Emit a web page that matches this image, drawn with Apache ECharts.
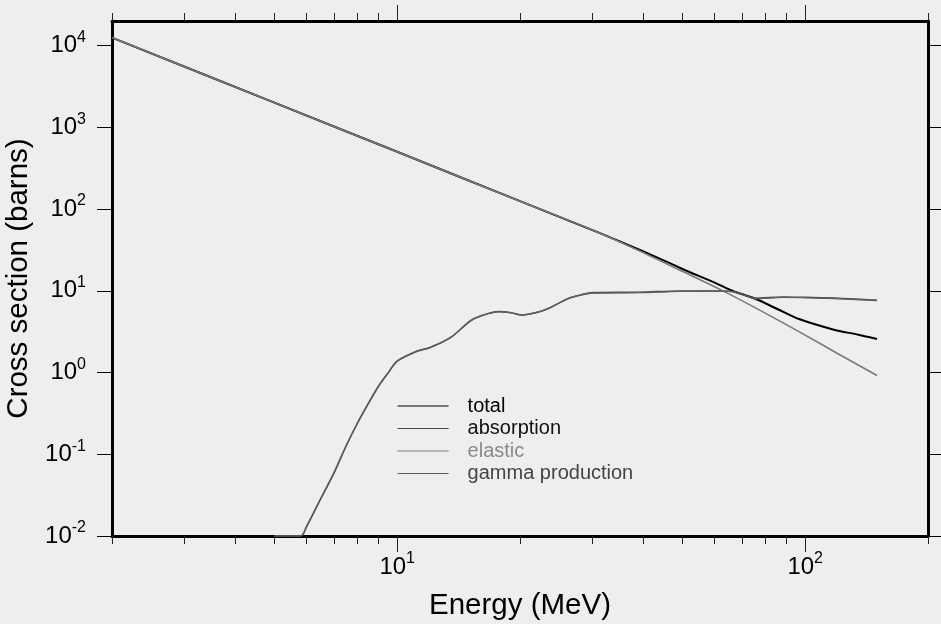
<!DOCTYPE html>
<html><head><meta charset="utf-8">
<script src="https://cdn.jsdelivr.net/npm/echarts@6/dist/echarts.min.js"></script>
<style>html,body{margin:0;padding:0;background:#eeeeee}#c{width:941px;height:624px}</style>
</head><body><div id="c"></div>
<script>
// ---- data ----
const totalEnergy = [2, 5, 10, 20, 31.4, 40, 45.7, 50, 60, 66.5, 75, 86, 97, 117, 135, 150];
const totalValues = [12540, 2006, 502, 125, 50.7, 30.5, 22.8, 18.5, 12.6, 9.95, 8.1, 5.9, 4.48, 3.37, 2.9, 2.57];

const elasticEnergy = [2, 5, 10, 20, 31.4, 39.3, 50, 64.1, 80, 100, 120, 150];
const elasticValues = [12540, 2006, 502, 125, 50.7, 30.7, 17.3, 9.5, 5.3, 2.87, 1.71, 0.92];

const absEnergy = [5.0, 5.8, 6.0, 6.5, 7.0, 7.5, 8.0, 8.5, 9.0, 9.5, 10.0, 11.2, 12.0, 13.5, 15.1, 16.0, 17.7, 19.0, 20.2, 22.2, 23.7, 26.0, 27.5, 30.2, 39.3, 49.2, 62.8, 66.5, 71.0, 75.2, 88, 100, 121, 150];
const absValues = [0.01, 0.01, 0.0131, 0.0288, 0.0592, 0.127, 0.243, 0.419, 0.68, 0.99, 1.38, 1.83, 2.01, 2.67, 4.27, 4.91, 5.56, 5.4, 5.05, 5.5, 6.22, 7.87, 8.63, 9.5, 9.6, 9.95, 9.95, 9.8, 8.9, 8.1, 8.4, 8.3, 8.1, 7.65];

const gammaEnergy = absEnergy;
const gammaValues = [0.01, 0.01, 0.0131, 0.0288, 0.0592, 0.127, 0.243, 0.419, 0.68, 0.99, 1.38, 1.83, 2.01, 2.67, 4.27, 4.91, 5.56, 5.4, 5.05, 5.5, 6.22, 7.87, 8.63, 9.4, 9.5, 9.85, 9.9, 9.7, 8.8, 8.0, 8.3, 8.25, 8.0, 7.6];

const seriesNames = ['total', 'absorption', 'elastic', 'gamma production'];
const xMajorTicks = [10, 100];
const xMinorTicks = [2, 3, 4, 5, 6, 7, 8, 9, 20, 30, 40, 50, 60, 70, 80, 90, 200];
const yTicks = [0.01, 0.1, 1, 10, 100, 1000, 10000];

// ---- chart ----
const FONT = '"Liberation Sans", Arial, Helvetica, sans-serif';
function pairs(xs, ys) { return xs.map((x, i) => [x, ys[i]]); }
function powLabel(v) {
  const e = Math.round(Math.log10(v));
  return '{b|10}{s|' + e + '}';
}
const richLbl = {
  b: { fontSize: 24, lineHeight: 32, fontFamily: FONT, color: '#000' },
  s: { fontSize: 16, lineHeight: 16, verticalAlign: 'top', fontFamily: FONT, color: '#000' }
};
const X_MIN = 2, X_MAX = 200, Y_MIN = 0.01, Y_MAX = 20000;
const frameLine = { show: true, onZero: false, lineStyle: { color: '#000', width: 3 } };

function xAxisDef(position, ticks, len, withLabel, withLine, extra) {
  return Object.assign({
    type: 'log', logBase: 10, min: X_MIN, max: X_MAX, position: position, gridIndex: 0,
    axisLine: withLine ? frameLine : { show: false, onZero: false },
    axisTick: { show: true, inside: false, length: len, customValues: ticks, lineStyle: { color: '#222', width: 1 } },
    minorTick: { show: false },
    splitLine: { show: false },
    axisLabel: withLabel ? { show: true, customValues: ticks, margin: 15, formatter: powLabel, rich: richLbl } : { show: false }
  }, extra || {});
}

const chart = echarts.init(document.getElementById('c'));
chart.setOption({
  backgroundColor: '#eeeeee',
  animation: false,
  grid: { left: 112, right: 13, top: 21, bottom: 88, containLabel: false, outerBoundsMode: 'none' },
  xAxis: [
    xAxisDef('bottom', xMajorTicks, 16, true, true, {
      name: 'Energy (MeV)', nameLocation: 'middle', nameGap: 55,
      nameTextStyle: { fontSize: 29.5, fontFamily: FONT, color: '#000' }
    }),
    xAxisDef('bottom', xMinorTicks, 8, false, false),
    xAxisDef('top', xMajorTicks, 16, false, true),
    xAxisDef('top', xMinorTicks, 8, false, false)
  ],
  yAxis: [
    {
      type: 'log', logBase: 10, min: Y_MIN, max: Y_MAX, position: 'left',
      axisLine: frameLine,
      axisTick: { show: true, length: 15, customValues: yTicks, lineStyle: { color: '#000', width: 1 } },
      splitLine: { show: false },
      axisLabel: { show: true, customValues: yTicks, margin: 26, formatter: powLabel, rich: richLbl },
      name: 'Cross section (barns)', nameLocation: 'middle', nameGap: 69,
      nameTextStyle: { fontSize: 29.5, fontFamily: FONT, color: '#000' }
    },
    {
      type: 'log', logBase: 10, min: Y_MIN, max: Y_MAX, position: 'right',
      axisLine: frameLine,
      axisTick: { show: true, length: 15, customValues: yTicks, lineStyle: { color: '#000', width: 1 } },
      splitLine: { show: false },
      axisLabel: { show: false }
    }
  ],
  legend: {
    orient: 'vertical', left: 397, top: 396, padding: 0,
    itemWidth: 51, itemHeight: 10, itemGap: 2.5,
    itemStyle: { opacity: 0 },
    lineStyle: { width: 1.2 },
    textStyle: { fontSize: 20, lineHeight: 20, fontFamily: FONT, padding: [0, 0, 0, 14] },
    data: [
      { name: 'total', textStyle: { color: '#000000' } },
      { name: 'absorption', textStyle: { color: '#111111' } },
      { name: 'elastic', textStyle: { color: '#8a8a8a' } },
      { name: 'gamma production', textStyle: { color: '#444444' } }
    ]
  },
  series: [
    { name: seriesNames[0], type: 'line', xAxisIndex: 0, yAxisIndex: 0, symbol: 'none', smooth: 0.3,
      lineStyle: { color: '#000000', width: 2 }, itemStyle: { color: '#000000' },
      data: pairs(totalEnergy, totalValues) },
    { name: seriesNames[1], type: 'line', xAxisIndex: 0, yAxisIndex: 0, symbol: 'none', smooth: 0.3,
      lineStyle: { color: '#4a4a4a', width: 1.6 }, itemStyle: { color: '#4a4a4a' },
      data: pairs(absEnergy, absValues) },
    { name: seriesNames[2], type: 'line', xAxisIndex: 0, yAxisIndex: 0, symbol: 'none', smooth: 0.3,
      lineStyle: { color: '#7a7a7a', width: 1.6 }, itemStyle: { color: '#7a7a7a' },
      data: pairs(elasticEnergy, elasticValues) },
    { name: seriesNames[3], type: 'line', xAxisIndex: 0, yAxisIndex: 0, symbol: 'none', smooth: 0.3,
      lineStyle: { color: '#5e5e5e', width: 1.4 }, itemStyle: { color: '#5e5e5e' },
      data: pairs(gammaEnergy, gammaValues) }
  ]
});
</script></body></html>
